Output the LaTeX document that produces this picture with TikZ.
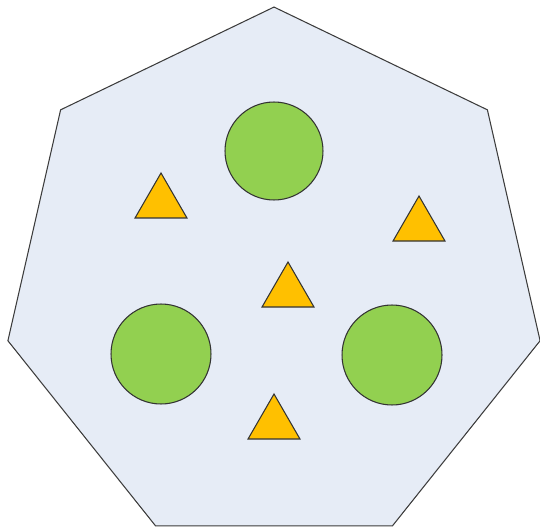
\documentclass[tikz,border=0pt]{standalone}
\usepackage{tikz}
\usetikzlibrary{shapes.geometric}
\definecolor{plateblue} {RGB}{230,236,246}
\definecolor{discgreen} {RGB}{146,208,80}
\definecolor{wedgegold} {RGB}{255,192,0}
\definecolor{edgegray}  {RGB}{60,60,60}

\begin{document}
\begin{tikzpicture}[
  x=0.02cm,y=-0.02cm,
  plate/.style={regular polygon,regular polygon sides=7,draw=edgegray,fill=plateblue,
                inner sep=0pt,minimum size=10.92cm,line width=0.6pt},
  disc/.style={circle,draw=black!80,fill=discgreen,inner sep=0pt,
               minimum size=#1,line width=0.6pt},
  wedge/.style={regular polygon,regular polygon sides=3,draw=black!80,fill=wedgegold,
                inner sep=0pt,minimum size=1.2cm,line width=0.6pt},
]
\useasboundingbox (0,0) rectangle (540,527);

%% ── Heptagon plate ───────────────────────────────────────────────────────────
\node[plate] (hept) at (274,280) {};

%% ── Green discs ──────────────────────────────────────────────────────────────
\node[disc={1.96cm}] (Ctop)   at (274,151) {};
\node[disc={2.0cm}]  (Cleft)  at (161,354) {};
\node[disc={2.0cm}]  (Cright) at (392,355) {};

%% ── Gold triangles ───────────────────────────────────────────────────────────
\node[wedge] (Tleft)  at (161,203) {};
\node[wedge] (Tright) at (419,226) {};
\node[wedge] (Tmid)   at (288,292) {};
\node[wedge] (Tbot)   at (274,424) {};

\end{tikzpicture}
\end{document}
